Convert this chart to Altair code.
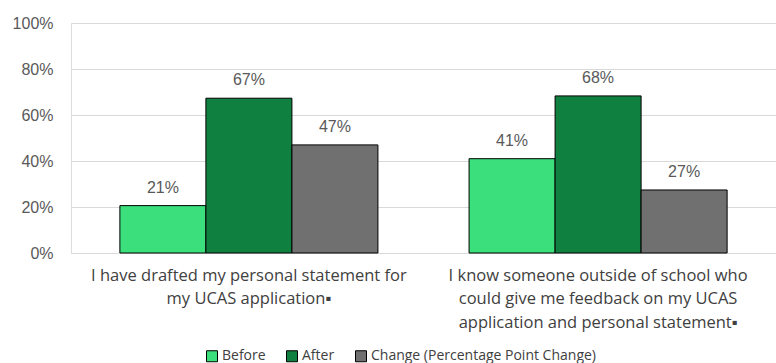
import altair as alt
import pandas as pd

categories = [
    "I have drafted my personal statement for|my UCAS application\u25aa",
    "I know someone outside of school who|could give me feedback on my UCAS|application and personal statement\u25aa",
]
series = ["Before", "After", "Change (Percentage Point Change)"]
before = [0.206, 0.41]
after = [0.673, 0.683]
change = [0.47, 0.274]
colors = ["#3BE07D", "#108040", "#707070"]

rows = []
for i, c in enumerate(categories):
    for s, vals in zip(series, [before, after, change]):
        rows.append({"cat": c, "series": s, "value": vals[i]})
df = pd.DataFrame(rows)

x = alt.X("cat:N", sort=categories, title=None,
          scale=alt.Scale(paddingInner=0.261, paddingOuter=0.14),
          axis=alt.Axis(labelAngle=0, labelExpr="split(datum.label, '|')",
                        labelFont="Open Sans", labelFontSize=16.5, labelColor="#404040",
                        labelLineHeight=23.5, labelPadding=14, labelLimit=0,
                        ticks=False, domain=False, labelBaseline="top"))
xo = alt.XOffset("series:N", sort=series, scale=alt.Scale(paddingInner=0, paddingOuter=0))
y = alt.Y("value:Q", title=None,
          scale=alt.Scale(domain=[0, 1], nice=False),
          axis=alt.Axis(format=".0%", values=[0, 0.2, 0.4, 0.6, 0.8, 1.0],
                        labelFont="Liberation Sans", labelFontSize=16, labelColor="#595959",
                        labelPadding=18, ticks=False, domain=False,
                        gridColor="#d9d9d9", gridWidth=1))
color = alt.Color("series:N", sort=series,
                  scale=alt.Scale(domain=series, range=colors),
                  legend=alt.Legend(title=None, orient="none", legendX=134, legendY=326,
                                    direction="horizontal", symbolType="square",
                                    symbolSize=121, symbolStrokeColor="black",
                                    symbolStrokeWidth=1, labelFont="Open Sans",
                                    labelFontSize=14, labelColor="#404040",
                                    columnPadding=18, symbolOffset=0, labelOffset=3,
                                    labelLimit=400))

base = alt.Chart(df)
bars = base.mark_bar(stroke="black", strokeWidth=1).encode(x=x, xOffset=xo, y=y, color=color)
labels = base.mark_text(baseline="middle", dy=-18, font="Liberation Sans",
                        fontSize=16, color="#595959").encode(
    x=x, xOffset=xo, y=y, text=alt.Text("value:Q", format=".0%"))

chart = (bars + labels).properties(
    width=705, height=230,
    autosize=alt.AutoSizeParams(type="none"),
    padding={"top": 23, "left": 71, "right": 0, "bottom": 110},
).configure_view(stroke=None).configure(background="white")

chart.save("out.html", embed_options={"renderer": "svg", "actions": False})
